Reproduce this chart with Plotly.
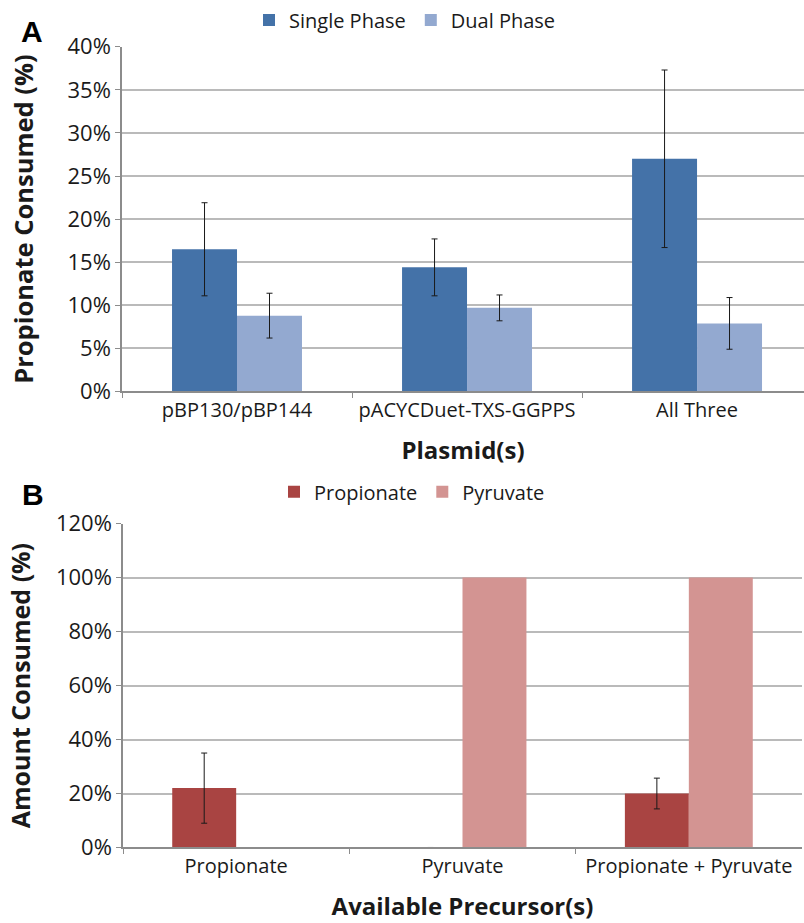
import plotly.graph_objects as go

# Panel A data
plasmids = ["pBP130/pBP144", "pACYCDuet-TXS-GGPPS", "All Three"]
single_phase = [16.5, 14.4, 27.0]
single_err = [5.4, 3.3, 10.3]
dual_phase = [8.8, 9.7, 7.9]
dual_err = [2.6, 1.5, 3.0]
a_ticks = [0, 5, 10, 15, 20, 25, 30, 35, 40]

# Panel B data
precursors = ["Propionate", "Pyruvate", "Propionate + Pyruvate"]
propionate = [22, 0, 20]
propionate_err = [13, 0, 5.7]
pyruvate = [0, 100, 100]
b_ticks = [0, 20, 40, 60, 80, 100, 120]

FONT = "Open Sans, sans-serif"
W, H = 804, 923
GRID = "#bababa"
AX = "#8c8c8c"

fig = go.Figure()

err_style = dict(type="data", visible=True, color="#1a1a1a", thickness=1, width=3)

fig.add_trace(go.Bar(x=plasmids, y=single_phase, name="Single Phase",
                     marker=dict(color="#4472a8", line=dict(width=0)),
                     error_y=dict(array=single_err, **err_style),
                     xaxis="x", yaxis="y", legend="legend"))
fig.add_trace(go.Bar(x=plasmids, y=dual_phase, name="Dual Phase",
                     marker=dict(color="#93a9d0", line=dict(width=0)),
                     error_y=dict(array=dual_err, **err_style),
                     xaxis="x", yaxis="y", legend="legend"))
fig.add_trace(go.Bar(x=precursors, y=propionate, name="Propionate",
                     marker=dict(color="#a94442", line=dict(width=0)),
                     error_y=dict(array=propionate_err, **err_style),
                     xaxis="x2", yaxis="y2", legend="legend2"))
fig.add_trace(go.Bar(x=precursors, y=pyruvate, name="Pyruvate",
                     marker=dict(color="#d39492", line=dict(width=0)),
                     xaxis="x2", yaxis="y2", legend="legend2"))

def ydom(top, bottom):
    return [1 - bottom / H, 1 - top / H]

xtickfont = dict(family=FONT, size=20, color="#1a1a1a")
ytickfont = dict(family=FONT, size=22, color="#1a1a1a")
xtitlefont = dict(family=FONT, size=24, color="#1a1a1a", weight="bold")

fig.update_layout(
    width=W, height=H,
    margin=dict(l=0, r=0, t=0, b=0),
    paper_bgcolor="white", plot_bgcolor="white",
    barmode="group", bargap=0.435, bargroupgap=0,
    font=dict(family=FONT, color="#1a1a1a"),
    xaxis=dict(domain=[122 / W, 1], type="category", range=[-0.5, 2.465],
               showline=True, linecolor=AX, linewidth=1.5,
               ticks="outside", tickson="boundaries", ticklen=5, tickcolor=AX,
               tickfont=xtickfont, automargin=False,
               title=dict(text="Plasmid(s)", font=xtitlefont, standoff=20),
               anchor="y"),
    yaxis=dict(domain=ydom(41, 388), range=[0, 40], tickvals=a_ticks,
               ticktext=[f"{v}%" for v in a_ticks],
               showgrid=True, gridcolor=GRID, gridwidth=1.5,
               showline=True, linecolor=AX, linewidth=1.5,
               ticks="outside", ticklen=5, tickcolor=AX,
               tickfont=ytickfont, automargin=False, zeroline=False,
               title=dict(text="Propionate Consumed (%)",
                          font=dict(family=FONT, size=25.5, color="#1a1a1a", weight="bold"),
                          standoff=27),
               anchor="x"),
    xaxis2=dict(domain=[123 / W, 802 / W], type="category", range=[-0.5, 2.5],
                showline=True, linecolor=AX, linewidth=1.5,
                ticks="outside", tickson="boundaries", ticklen=5, tickcolor=AX,
                tickfont=xtickfont, automargin=False,
                title=dict(text="Available Precursor(s)", font=xtitlefont, standoff=20),
                anchor="y2"),
    yaxis2=dict(domain=ydom(521, 847), range=[0, 120], tickvals=b_ticks,
                ticktext=[f"{v}%" for v in b_ticks],
                showgrid=True, gridcolor=GRID, gridwidth=1.5,
                showline=True, linecolor=AX, linewidth=1.5,
                ticks="outside", ticklen=5, tickcolor=AX,
                tickfont=ytickfont, automargin=False, zeroline=False,
                title=dict(text="Amount Consumed (%)",
                           font=dict(family=FONT, size=25, color="#1a1a1a", weight="bold"),
                           standoff=18),
                anchor="x2"),
    legend=dict(orientation="h", x=405 / W, xanchor="center", y=1 - 14 / H, yanchor="middle",
                font=dict(family=FONT, size=20, color="#1a1a1a"), itemwidth=30,
                traceorder="normal", bgcolor="rgba(0,0,0,0)"),
    legend2=dict(orientation="h", x=412 / W, xanchor="center", y=1 - 489 / H, yanchor="middle",
                 font=dict(family=FONT, size=20, color="#1a1a1a"), itemwidth=30,
                 traceorder="normal", bgcolor="rgba(0,0,0,0)"),
    annotations=[
        dict(text="<b>A</b>", x=32 / W, y=1 - 26 / H, xref="paper", yref="paper",
             xanchor="center", yanchor="middle",
             showarrow=False, font=dict(family="Liberation Sans, Arial", size=30, color="black")),
        dict(text="<b>B</b>", x=33 / W, y=1 - 492 / H, xref="paper", yref="paper",
             xanchor="center", yanchor="middle",
             showarrow=False, font=dict(family="Liberation Sans, Arial", size=30, color="black")),
    ],
)

fig.write_html("out.html", config={"displayModeBar": False},
               post_script="document.body.style.margin='0';")
